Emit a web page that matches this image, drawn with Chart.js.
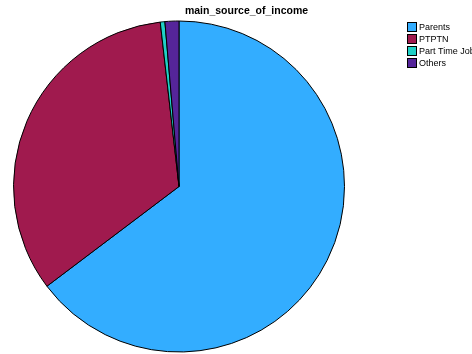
<!DOCTYPE html>
<html>
<head>
<meta charset="utf-8">
<script src="https://cdn.jsdelivr.net/npm/chart.js@4/dist/chart.umd.min.js"></script>
<style>
  html, body { margin: 0; padding: 0; background: #fff; }
  #wrap { width: 472px; height: 354px; }
</style>
</head>
<body>
<div id="wrap"><canvas id="pie"></canvas></div>
<script>
// income sources and counts
const chartTitle = 'main_source_of_income';
const categories = ['Parents', 'PTPTN', 'Part Time Job', 'Others'];
const counts = [143, 74, 1, 3];
const sliceColors = ['#33adff', '#a01a4e', '#1fd1c6', '#55259a'];

// title + legend drawn by hand so they land where the reference has them
const decorations = {
    id: 'decorations',
    afterDraw(chart) {
        const ctx = chart.ctx;
        ctx.save();
        ctx.fillStyle = '#000';
        ctx.font = 'bold 10.5px "Liberation Sans", Arial, sans-serif';
        ctx.textAlign = 'center';
        ctx.textBaseline = 'alphabetic';
        ctx.fillText(chartTitle, 246.5, 14);

        ctx.font = '9px "Liberation Sans", Arial, sans-serif';
        ctx.textAlign = 'left';
        ctx.textBaseline = 'middle';
        categories.forEach((name, i) => {
            const y = 22 + i * 12;
            ctx.fillStyle = sliceColors[i];
            ctx.fillRect(407.5, y + 0.5, 9, 9);
            ctx.strokeStyle = '#000';
            ctx.lineWidth = 1;
            ctx.strokeRect(407.5, y + 0.5, 9, 9);
            ctx.fillStyle = '#000';
            ctx.fillText(name, 419, y + 5.5);
        });
        ctx.restore();
    }
};

new Chart(document.getElementById('pie'), {
    type: 'pie',
    data: {
        labels: categories,
        datasets: [{
            data: counts,
            backgroundColor: sliceColors,
            borderColor: '#000',
            borderWidth: 1
        }]
    },
    options: {
        responsive: true,
        maintainAspectRatio: false,
        animation: false,
        layout: { padding: { left: 13, right: 127, top: 20, bottom: 1 } },
        plugins: {
            legend: { display: false },
            title: { display: false },
            tooltip: { enabled: false }
        }
    },
    plugins: [decorations]
});
</script>
</body>
</html>
